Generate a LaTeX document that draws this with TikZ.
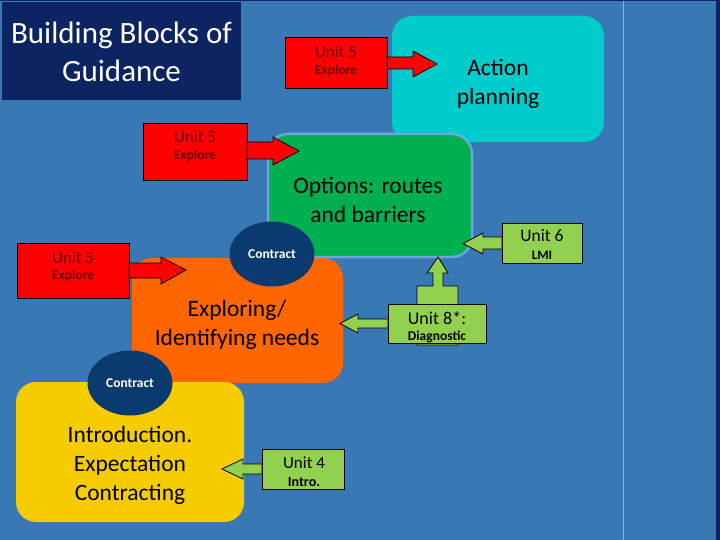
\documentclass[tikz,border=0pt]{standalone}
\usepackage{fontspec}
\setmainfont{Carlito}
\usetikzlibrary{shapes.geometric}
\definecolor{bgblue}{RGB}{56,120,181}
\definecolor{titlenavy}{RGB}{12,36,97}
\definecolor{cyanbox}{RGB}{0,204,204}
\definecolor{greenbox}{RGB}{0,176,80}
\definecolor{greenedge}{RGB}{110,165,222}
\definecolor{orangebox}{RGB}{255,102,0}
\definecolor{yellowbox}{RGB}{245,204,0}
\definecolor{ellnavy}{RGB}{10,58,110}
\definecolor{redfill}{RGB}{255,0,0}
\definecolor{redtext}{RGB}{110,0,0}
\definecolor{limegreen}{RGB}{146,208,80}
\definecolor{divline}{RGB}{140,180,226}
\begin{document}
\begin{tikzpicture}[x=1pt,y=-1pt,
  stage/.style={rounded corners=20pt},
  stagetext/.style={align=center,font=\fontsize{23.5}{29}\selectfont,text=black},
  contractell/.style={ellipse,fill=ellnavy,minimum width=85pt,minimum height=65pt,inner sep=0pt,text=white,font=\fontsize{13.5}{15}\selectfont\bfseries},
  redcall/.style={fill=redfill,draw=black,line width=0.8pt},
  greencall/.style={fill=limegreen,draw=black,line width=0.8pt},
  redtxt/.style={align=center,text=redtext},
  greentxt/.style={align=center,text=black}]
\useasboundingbox (0,0) rectangle (720,540);
\fill[bgblue] (0,0) rectangle (720,540);
\draw[divline,line width=1pt] (623,0) -- (623,540);
\fill[titlenavy] (716,0) rectangle (720,540);
\fill[titlenavy] (0,0) rectangle (720,1);
% title
\fill[titlenavy] (2,2) rectangle (241,100);
\node[align=center,text=white,font=\fontsize{31}{38}\selectfont] (title) at (121.5,52) {Building Blocks of\\Guidance};
% stage boxes
\fill[stage,cyanbox] (392,16) rectangle (604,142);
\node[stagetext] (action) at (498,84) {Action\\planning};
\filldraw[stage,fill=greenbox,draw=greenedge,line width=2.5pt] (268,134) rectangle (472,257);
\node[stagetext] (options) at (368,200) {Options: routes\\and barriers};
\fill[stage,orangebox] (132,258) rectangle (343,383);
\node[stagetext] (exploring) at (237,325) {Exploring/\\Identifying needs};
\fill[stage,yellowbox] (16,382) rectangle (244,522);
\node[stagetext] (intro) at (130,465) {Introduction.\\Expectation\\Contracting};
% contract ellipses
\node[contractell] (c1) at (272,254) {Contract};
\node[contractell] (c2) at (130,383) {Contract};
% red callouts
\draw[redcall] (285,37) rectangle (387,88);
\draw[redcall] (387,57) -- (413,57) -- (413,51) -- (437,64) -- (413,77) -- (413,69) -- (387,69) -- cycle;
\node[redtxt] (r1a) at (336,52) {\fontsize{17}{19}\selectfont Unit 5};
\node[redtxt] (r1b) at (336,71) {\fontsize{13.5}{15}\selectfont\bfseries Explore};
\draw[redcall] (143,123) rectangle (247,180);
\draw[redcall] (247,142) -- (273,142) -- (273,137) -- (299,151) -- (273,165) -- (273,159) -- (247,159) -- cycle;
\node[redtxt] (r2a) at (195,137) {\fontsize{17}{19}\selectfont Unit 5};
\node[redtxt] (r2b) at (195,156) {\fontsize{13.5}{15}\selectfont\bfseries Explore};
\draw[redcall] (17,243) rectangle (129,298);
\draw[redcall] (129,263) -- (161,263) -- (161,257) -- (186,270) -- (161,284) -- (161,278) -- (129,278) -- cycle;
\node[redtxt] (r3a) at (73,258) {\fontsize{17}{19}\selectfont Unit 5};
\node[redtxt] (r3b) at (73,276) {\fontsize{13.5}{15}\selectfont\bfseries Explore};
% green callouts
\draw[greencall] (502,223) rectangle (582,263);
\draw[greencall] (502,237) -- (483,237) -- (483,233) -- (463,243.5) -- (483,254) -- (483,249) -- (502,249) -- cycle;
\node[greentxt] (g6a) at (542,236) {\fontsize{17.5}{19}\selectfont Unit 6};
\node[greentxt] (g6b) at (542,255) {\fontsize{13}{15}\selectfont\bfseries LMI};
\draw[greencall] (417,345) -- (417,286) -- (433,286) -- (433,273) -- (427,273) -- (438,257) -- (448,273) -- (443,273) -- (443,286) -- (458,286) -- (458,345) -- cycle;
\draw[greencall] (388,304) rectangle (486,343);
\draw[greencall] (388,319) -- (358,319) -- (358,314) -- (340,323.5) -- (358,333) -- (358,328) -- (388,328) -- cycle;
\node[greentxt] (g8a) at (437,318) {\fontsize{18}{20}\selectfont Unit 8*:};
\node[greentxt] (g8b) at (437,337) {\fontsize{13.5}{15}\selectfont\bfseries Diagnostic};
\draw[greencall] (262,449) rectangle (344,489);
\draw[greencall] (262,464) -- (243,464) -- (243,459) -- (222,469) -- (243,479) -- (243,474) -- (262,474) -- cycle;
\node[greentxt] (g4a) at (304,463) {\fontsize{17}{19}\selectfont Unit 4};
\node[greentxt] (g4b) at (304,482) {\fontsize{14}{15}\selectfont\bfseries Intro.};
\end{tikzpicture}
\end{document}
